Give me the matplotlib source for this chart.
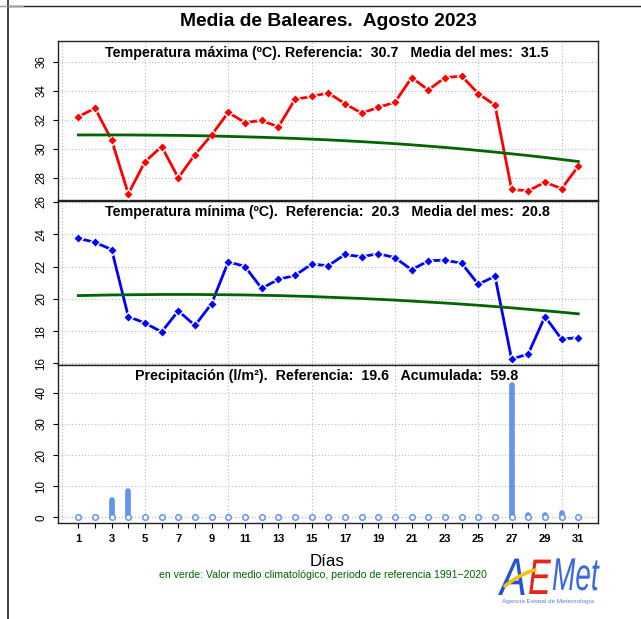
import numpy as np
import matplotlib
matplotlib.use('Agg')
import matplotlib.pyplot as plt
from matplotlib.textpath import TextPath
from matplotlib.patches import PathPatch
from matplotlib.font_manager import FontProperties
from matplotlib.transforms import Affine2D

plt.rcParams['font.family'] = ['Liberation Sans', 'DejaVu Sans']

###   DATOS   ###

dias = list(range(1, 32))

# temperatura maxima diaria y valor normal 1991-2020
tmax = [32.2, 32.8, 30.6, 26.9, 29.1, 30.15, 28.0, 29.6, 30.95, 32.5,
        31.8, 31.95, 31.5, 33.4, 33.6, 33.85, 33.1, 32.45, 32.85, 33.2,
        34.9, 34.05, 34.9, 35.0, 33.8, 33.0, 27.2, 27.1, 27.7, 27.25, 28.8]
tmax_normal = [30.95, 30.95, 30.95, 30.95, 30.94, 30.93, 30.92, 30.9, 30.88, 30.85,
               30.82, 30.79, 30.75, 30.71, 30.66, 30.61, 30.55, 30.49, 30.42, 30.35,
               30.27, 30.18, 30.09, 29.99, 29.88, 29.77, 29.65, 29.53, 29.4, 29.26, 29.12]

# temperatura minima diaria y valor normal
tmin = [23.75, 23.5, 23.05, 18.9, 18.5, 17.95, 19.25, 18.35, 19.7, 22.3,
        22.0, 20.65, 21.2, 21.45, 22.15, 22.05, 22.75, 22.6, 22.8, 22.55,
        21.8, 22.35, 22.4, 22.2, 20.9, 21.4, 16.25, 16.6, 18.9, 17.5, 17.6]
tmin_normal = [20.2, 20.22, 20.24, 20.25, 20.26, 20.27, 20.27, 20.27, 20.26, 20.25,
               20.24, 20.22, 20.2, 20.17, 20.14, 20.1, 20.06, 20.02, 19.97, 19.92,
               19.86, 19.8, 19.74, 19.67, 19.6, 19.52, 19.44, 19.35, 19.26, 19.17, 19.07]

# precipitacion diaria (l/m2)
precip = [0, 0, 5.6, 8.5, 0, 0, 0, 0, 0, 0,
          0, 0, 0, 0, 0, 0, 0, 0, 0, 0,
          0, 0, 0, 0, 0, 0, 42.6, 0.8, 0.7, 1.3, 0]

titulo = "Media de Baleares.  Agosto 2023"
tit_max = "Temperatura máxima (ºC). Referencia:  30.7   Media del mes:  31.5"
tit_min = "Temperatura mínima (ºC).  Referencia:  20.3   Media del mes:  20.8"
tit_pre = "Precipitación (l/m²).  Referencia:  19.6   Acumulada:  59.8"
nota = "en verde: Valor medio climatológico, periodo de referencia 1991\u22122020"

###   FIGURA   ###

W, H = 641, 619
fig = plt.figure(figsize=(W / 100, H / 100), dpi=100)

VERDE = '#006400'
GRIS = '#b8b8b8'
AZUL_P = '#6495ED'


def caja(top, bottom):
    # posicion de un panel a partir de pixeles (origen arriba)
    return [58.3 / W, 1 - bottom / H, 540 / W, (bottom - top) / H]


def preparar(ax, ylim, yticks):
    ax.set_xlim(-0.2, 32.2)
    ax.set_ylim(*ylim)
    for d in range(0, 31, 5):
        ax.axvline(d, color=GRIS, lw=0.8, ls=(0, (1, 2)), zorder=1)
    for t in yticks:
        ax.axhline(t, color=GRIS, lw=0.8, ls=(0, (1, 2)), zorder=1)
    ax.set_yticks(yticks)
    ax.tick_params(axis='y', direction='out', length=3.8, width=0.8, pad=4,
                   labelsize=8.4, labelrotation=90)
    for lab in ax.get_yticklabels():
        lab.set_va('center')
    for s in ax.spines.values():
        s.set_linewidth(1.0)
        s.set_color('#222222')


def panel_temp(ax, serie, normal, color, ylim, yticks):
    preparar(ax, ylim, yticks)
    ax.tick_params(axis='x', bottom=False, labelbottom=False)
    ax.plot(dias, serie, color=color, lw=2, zorder=3)
    ax.plot(dias, serie, ls='none', marker='D', ms=6.5, mfc='white', mec='none', zorder=4)
    ax.plot(dias, normal, color=VERDE, lw=2, zorder=5)
    ax.plot(dias, serie, ls='none', marker='D', ms=4.3, mfc=color, mec='none', zorder=6)


ax1 = fig.add_axes(caja(41, 200))
panel_temp(ax1, tmax, tmax_normal, '#ff0000', (26.47, 37.42), [28, 30, 32, 34, 36])

ax2 = fig.add_axes(caja(201, 365))
panel_temp(ax2, tmin, tmin_normal, '#0000ff', (15.9, 26.06), [16, 18, 20, 22, 24, 26])

ax3 = fig.add_axes(caja(365, 523))
preparar(ax3, (-1.8, 48.9), [0, 10, 20, 30, 40])
p = np.array(precip)
d = np.array(dias)
hay = p > 0
ax3.vlines(d[hay], 0, p[hay], color=AZUL_P, lw=4.1, capstyle='round', zorder=3)
ax3.plot(dias, np.zeros_like(p), ls='none', marker='o', ms=4, mfc='white',
         mec=AZUL_P, mew=1.1, zorder=4)
ax3.set_xticks(dias)
ax3.set_xticklabels([str(x) if x % 2 else '' for x in dias], fontweight='bold')
ax3.tick_params(axis='x', direction='out', length=3.8, width=0.8, pad=4, labelsize=8)

###   TEXTOS Y MARCO   ###

ov = fig.add_axes([0, 0, 1, 1], zorder=10)
ov.set_xlim(0, W)
ov.set_ylim(H, 0)
ov.axis('off')

ov.plot([8, 8], [0, H], color='#222222', lw=1.2)
ov.plot([8, W], [6, 6], color='#222222', lw=1.0)
ov.plot([0, 23], [6, 6], color='#999999', lw=1.0)

ov.text(328, 21, titulo, ha='center', va='center', fontsize=13.9, fontweight='bold')
ov.text(327, 53, tit_max, ha='center', va='center', fontsize=10.3, fontweight='bold')
ov.text(327, 212, tit_min, ha='center', va='center', fontsize=10.3, fontweight='bold')
ov.text(327, 376, tit_pre, ha='center', va='center', fontsize=10.3, fontweight='bold')
ov.text(327, 561, "Días", ha='center', va='center', fontsize=12.2)
ov.text(323, 575, nota, ha='center', va='center', fontsize=7.6, color=VERDE)

# logotipo AEMET aproximado
fp = FontProperties(family='Liberation Sans', style='italic')


def letra(txt, x, y, sx, sy, color):
    tp = TextPath((0, 0), txt, size=1, prop=fp)
    camino = Affine2D().scale(sx, -sy).translate(x, y).transform_path(tp)
    ov.add_patch(PathPatch(camino, fc=color, ec='none', zorder=11))


letra("A", 500, 595, 40, 53, '#2452d6')
letra("E", 528, 594, 34, 50, '#e2261c')
letra("Met", 552, 590, 28, 46, '#3a68e2')
t = np.linspace(0, 1, 30)
ov.plot(505 + 30 * t, 586 - 24 * t + 8 * t * t, color='#f4c20d', lw=2.6,
        solid_capstyle='round', zorder=12)
ov.text(548, 601, "Agencia Estatal de Meteorología", ha='center', va='center',
        fontsize=4.6, color='#5a80e0')

fig.savefig('out.png', dpi=100)
